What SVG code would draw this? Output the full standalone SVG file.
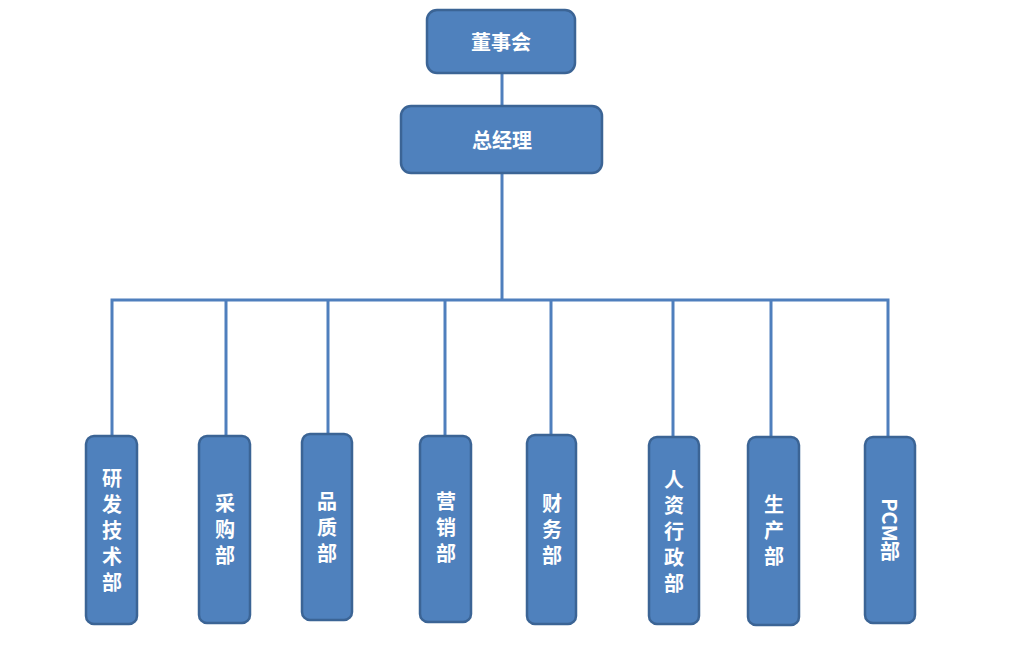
<svg xmlns="http://www.w3.org/2000/svg" width="1024" height="667" viewBox="0 0 1024 667">
<style>
.box{fill:#4f81bd;stroke:#3b6495;stroke-width:2.5}
.t{fill:#ffffff;font-family:"Noto Sans CJK SC","Liberation Sans",sans-serif;font-size:20px;font-weight:bold;text-anchor:middle;dominant-baseline:central}
.v{fill:#ffffff;font-family:"Noto Sans CJK SC","Liberation Sans",sans-serif;font-size:20px;font-weight:bold;text-anchor:middle;writing-mode:vertical-rl;letter-spacing:6px}
.ln{stroke:#4f7fbd;stroke-width:3;fill:none}
</style>
<rect width="1024" height="667" fill="#ffffff"/>
<g id="connectors">
<line class="ln" x1="502" y1="73" x2="502" y2="106"/>
<line class="ln" x1="502" y1="173" x2="502" y2="300"/>
<polyline class="ln" points="112,436 112,300 888,300 888,437"/>
<line class="ln" x1="226" y1="300" x2="226" y2="436"/>
<line class="ln" x1="328" y1="300" x2="328" y2="434"/>
<line class="ln" x1="445" y1="300" x2="445" y2="436"/>
<line class="ln" x1="551" y1="300" x2="551" y2="435"/>
<line class="ln" x1="673" y1="300" x2="673" y2="437"/>
<line class="ln" x1="771" y1="300" x2="771" y2="437"/>
</g>
<g id="n-dongshihui">
<rect class="box" x="427" y="10" width="148" height="63" rx="10"/>
<text class="t" x="501" y="41">董事会</text>
</g>
<g id="n-zongjingli">
<rect class="box" x="401" y="106" width="201" height="67" rx="10"/>
<text class="t" x="502" y="139">总经理</text>
</g>
<g id="n-yanfa">
<rect class="box" x="86" y="436" width="51" height="188" rx="8"/>
<text class="v" x="112" y="533">研发技术部</text>
</g>
<g id="n-caigou">
<rect class="box" x="199" y="436" width="51" height="187" rx="8"/>
<text class="v" x="225" y="532">采购部</text>
</g>
<g id="n-pinzhi">
<rect class="box" x="302" y="434" width="50" height="186" rx="8"/>
<text class="v" x="327" y="530">品质部</text>
</g>
<g id="n-yingxiao">
<rect class="box" x="420" y="436" width="51" height="186" rx="8"/>
<text class="v" x="446" y="530">营销部</text>
</g>
<g id="n-caiwu">
<rect class="box" x="527" y="435" width="49" height="189" rx="8"/>
<text class="v" x="552" y="532">财务部</text>
</g>
<g id="n-renzi">
<rect class="box" x="649" y="437" width="50" height="187" rx="8"/>
<text class="v" x="674" y="534">人资行政部</text>
</g>
<g id="n-shengchan">
<rect class="box" x="748" y="437" width="51" height="188" rx="8"/>
<text class="v" x="774" y="533">生产部</text>
</g>
<g id="n-pcm">
<rect class="box" x="865" y="437" width="50" height="186" rx="8"/>
<text class="v" x="890" y="530" style="letter-spacing:0">PCM部</text>
</g>
</svg>
